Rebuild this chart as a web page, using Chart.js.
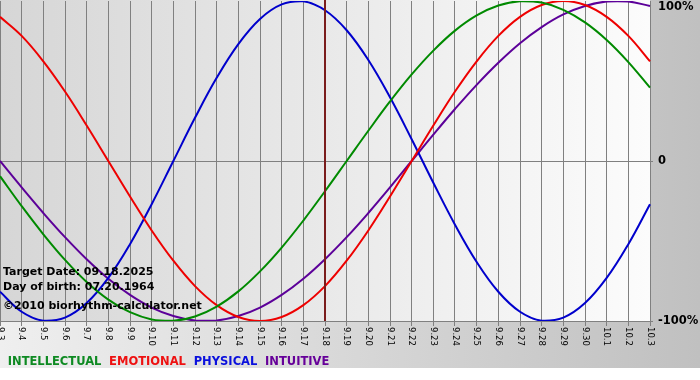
<!DOCTYPE html>
<html><head><meta charset="utf-8">
<script src="https://cdn.jsdelivr.net/npm/chart.js@4/dist/chart.umd.min.js"></script>
<style>
html,body{margin:0;padding:0;background:#fff;}
canvas{display:block;}
</style></head><body>
<canvas id="c" width="700" height="380"></canvas>
<script>
// ---- data ----
const dayLabels = ['9.3','9.4','9.5','9.6','9.7','9.8','9.9','9.10','9.11','9.12','9.13','9.14','9.15','9.16','9.17','9.18','9.19','9.20','9.21','9.22','9.23','9.24','9.25','9.26','9.27','9.28','9.29','9.30','10.1','10.2','10.3'];
const intellectual = [-9.5,-28.2,-45.8,-61.8,-75.6,-86.6,-94.5,-99.0,-99.9,-97.2,-91.0,-81.5,-69.0,-54.1,-37.2,-18.9,0,18.9,37.2,54.1,69.0,81.5,91.0,97.2,99.9,99.0,94.5,86.6,75.6,61.8,45.8];
const emotional = [90.1,78.2,62.3,43.4,22.2,0,-22.2,-43.4,-62.3,-78.2,-90.1,-97.5,-100,-97.5,-90.1,-78.2,-62.3,-43.4,-22.2,0,22.2,43.4,62.3,78.2,90.1,97.5,100,97.5,90.1,78.2,62.3];
const physical = [-81.7,-94.2,-99.8,-97.9,-88.8,-73.1,-52.0,-27.0,0,27.0,52.0,73.1,88.8,97.9,99.8,94.2,81.7,63.1,39.8,13.6,-13.6,-39.8,-63.1,-81.7,-94.2,-99.8,-97.9,-88.8,-73.1,-52.0,-27.0];
const intuitive = [0,-16.5,-32.5,-47.6,-61.4,-73.6,-83.7,-91.6,-96.9,-99.7,-99.7,-96.9,-91.6,-83.7,-73.6,-61.4,-47.6,-32.5,-16.5,0,16.5,32.5,47.6,61.4,73.6,83.7,91.6,96.9,99.7,99.7,96.9];
const seriesNames = ['INTELLECTUAL','EMOTIONAL','PHYSICAL','INTUITIVE'];
const yTickLabels = {'-100':'-100%','0':'0','100':'100%'};
const targetDay = '9.18';
const infoLines = ['Target Date: 09.18.2025','Day of birth: 07.20.1964','\u00A92010 biorhythm-calculator.net'];

const lineColors = ['#008a00','#ee0000','#0000cc','#5c0099'];
const legendColors = ['#0e8a22','#ee1111','#0a10dd','#660099'];

const bgPlugin = {
  id:'bg',
  beforeDraw(chart){
    const {ctx, chartArea:a, width, height} = chart;
    ctx.save();
    ctx.fillStyle = '#ffffff';
    ctx.fillRect(0,0,width,height);
    const g = ctx.createLinearGradient(0,0,width,0);
    g.addColorStop(0,'#efefef');
    g.addColorStop(1,'#c0c0c0');
    ctx.fillStyle = g;
    ctx.fillRect(0,0,width,368);
    const g2 = ctx.createLinearGradient(a.left,0,a.right,0);
    g2.addColorStop(0,'#d6d6d6');
    g2.addColorStop(1,'#fcfcfc');
    ctx.fillStyle = g2;
    ctx.fillRect(a.left,a.top-1,a.right-a.left,a.bottom-a.top+1);
    ctx.restore();
  }
};

const overlayPlugin = {
  id:'overlay',
  afterDatasetsDraw(chart){
    const {ctx, chartArea:a, scales:{x}} = chart;
    ctx.save();
    // target-date marker
    const tx = Math.round(x.getPixelForValue(dayLabels.indexOf(targetDay)));
    ctx.strokeStyle = '#7a1c1c';
    ctx.lineWidth = 2;
    ctx.beginPath();
    ctx.moveTo(tx+0, 0);
    ctx.lineTo(tx+0, a.bottom);
    ctx.stroke();
    // info text
    ctx.fillStyle = '#000000';
    ctx.font = 'bold 11px "DejaVu Sans"';
    ctx.textAlign = 'left';
    ctx.textBaseline = 'middle';
    const ys = [a.bottom-49, a.bottom-34, a.bottom-15];
    infoLines.forEach((t,i)=>ctx.fillText(t,3,ys[i]));
    ctx.restore();
  },
  afterDraw(chart){
    const {ctx, scales:{x}} = chart;
    ctx.save();
    ctx.fillStyle = '#000000';
    ctx.font = '8.5px "DejaVu Sans"';
    ctx.textAlign = 'left';
    ctx.textBaseline = 'middle';
    dayLabels.forEach((lab,i)=>{
      const px = x.getPixelForTick(i);
      ctx.save();
      ctx.translate(px, x.top + 6);
      ctx.rotate(Math.PI/2);
      ctx.fillText(lab,0,0);
      ctx.restore();
    });
    ctx.restore();
  }
};

const mk = (i,data)=>({label:seriesNames[i],data,borderColor:lineColors[i],backgroundColor:lineColors[i],borderWidth:2,pointRadius:0,tension:0.4,fill:false});

new Chart(document.getElementById('c'),{
  type:'line',
  data:{labels:dayLabels,datasets:[mk(0,intellectual),mk(1,emotional),mk(2,physical),mk(3,intuitive)]},
  options:{
    responsive:false,
    animation:false,
    devicePixelRatio:1,
    layout:{padding:{top:1,left:0,right:0,bottom:2.5}},
    plugins:{
      tooltip:{enabled:false},
      legend:{
        position:'bottom',align:'start',
        labels:{
          boxWidth:0,boxHeight:0,padding:2,
          font:{family:'"DejaVu Sans"',size:11.5,weight:'bold'},
          generateLabels(chart){
            return chart.data.datasets.map((ds,i)=>({text:ds.label,fontColor:legendColors[i],fillStyle:'rgba(0,0,0,0)',strokeStyle:'rgba(0,0,0,0)',lineWidth:0,hidden:false,datasetIndex:i}));
          }
        }
      }
    },
    scales:{
      x:{
        type:'category',
        offset:false,
        grid:{color:'#808080',lineWidth:1,tickLength:5,drawTicks:true},
        border:{display:true,color:'#808080'},
        ticks:{display:false},
        afterFit(s){s.height=33;s.paddingLeft=0;s.paddingRight=0;}
      },
      y:{
        type:'linear',position:'right',min:-100,max:100,
        ticks:{stepSize:100,padding:5,color:'#000',font:{family:'"DejaVu Sans"',size:11.5,weight:'bold',lineHeight:1.1},
          callback(v){const t=yTickLabels[String(v)]; return v===100?['',t]:t;}},
        grid:{tickLength:3,color(c){return c.tick && c.tick.value===100?'rgba(0,0,0,0)':'#808080';}},
        border:{display:true,color:'#808080'},
        afterFit(s){s.width=50;s.paddingTop=0;s.paddingBottom=0;}
      }
    }
  },
  plugins:[bgPlugin,overlayPlugin]
});
</script>
</body></html>
